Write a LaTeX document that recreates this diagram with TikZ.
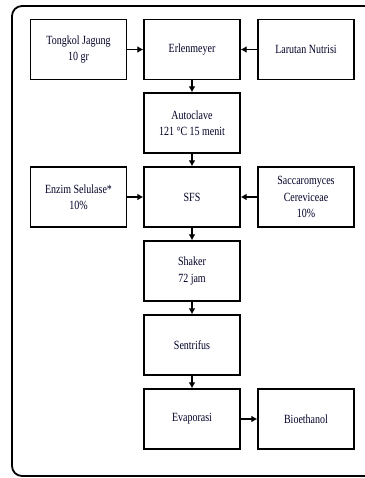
\documentclass[tikz,border=0pt]{standalone}
\usepackage{fontspec}
\setmainfont{Liberation Serif}
\newfontfamily\condserif[FakeStretch=0.8]{Liberation Serif}
\usetikzlibrary{arrows.meta}
\tikzset{
  procbox/.style={draw=black, line width=1.4pt, minimum width=96pt, minimum height=60pt,
    inner sep=0pt, align=center, font=\condserif\fontsize{12.5}{16.5}\selectfont, text=black!85!blue},
  flow/.style={line width=1.4pt, -{Latex[length=6pt,width=7pt]}},
  frame/.style={line width=1.8pt, rounded corners=10pt}
}
\begin{document}
\begin{tikzpicture}[x=1pt,y=-1pt]
\useasboundingbox (0,0) rectangle (364,478);
\draw[frame] (12,6) rectangle (380,476);
\node[procbox] (tong) at (78.5,49.5) {Tongkol Jagung\\10 gr};
\node[procbox] (erl) at (192,49.5) {Erlenmeyer};
\node[procbox] (lar) at (306,49.5) {Larutan Nutrisi};
\node[procbox] (auto) at (192,123) {Autoclave\\121 °C 15 menit};
\node[procbox] (enz) at (78.5,197) {Enzim Selulase*\\10\%};
\node[procbox] (sfs) at (192,197) {SFS};
\node[procbox] (sac) at (306,197) {Saccaromyces\\Cereviceae\\10\%};
\node[procbox] (shk) at (192,271) {Shaker\\72 jam};
\node[procbox] (sen) at (192,345) {Sentrifus};
\node[procbox] (eva) at (192,419) {Evaporasi};
\node[procbox] (bio) at (306,419) {Bioethanol};
\draw[flow] (tong) -- (erl);
\draw[flow] (lar) -- (erl);
\draw[flow] (erl) -- (auto);
\draw[flow] (auto) -- (sfs);
\draw[flow] (enz) -- (sfs);
\draw[flow] (sac) -- (sfs);
\draw[flow] (sfs) -- (shk);
\draw[flow] (shk) -- (sen);
\draw[flow] (sen) -- (eva);
\draw[flow] (eva) -- (bio);
\end{tikzpicture}
\end{document}
